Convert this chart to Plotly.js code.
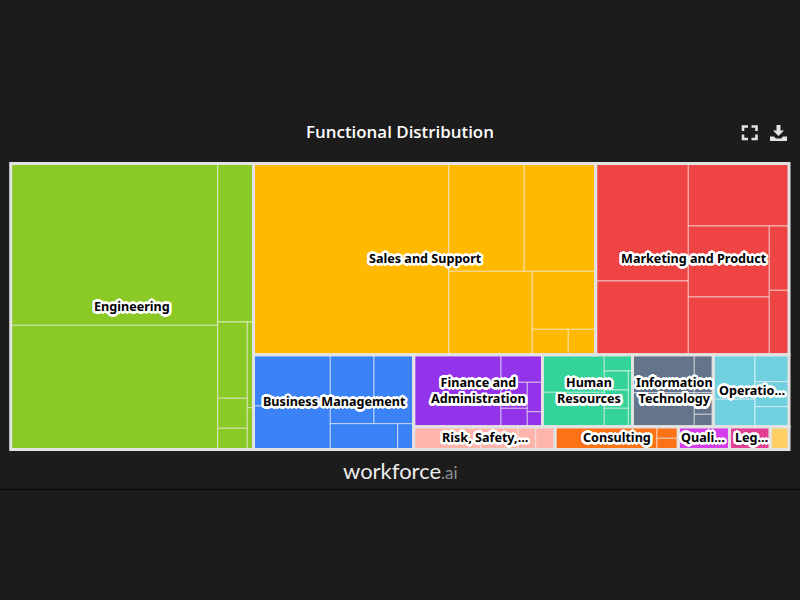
<!DOCTYPE html>
<html>
<head>
<meta charset="utf-8">
<script src="https://cdn.plot.ly/plotly-3.0.1.min.js"></script>
<style>html,body{margin:0;padding:0;background:#1c1c1c;overflow:hidden}#chart{width:800px;height:600px}</style>
</head>
<body>
<div id="chart"></div>
<script>
// Functions of the chart
var groupNames = ['Engineering','Sales and Support','Marketing and Product','Business Management','Finance and Administration','Human Resources','Information Technology','Operations','Risk, Safety','Consulting','Quality','Legal','Other'];
var groupColors = ['#8bca26','#ffb900','#ef4444','#3b82f6','#9333ea','#34d399','#64748b','#71d0e0','#fdb5ab','#fc7216','#d53deb','#e23f93','#ffcf66'];

// Hierarchy: id, parent, value (0 on branches, which sum their children)
var nodeIds = ['All',
 'Engineering','engA','engLeft','e1','e2','engRight','e3','engLow','engLowA','e4','e5','e6','engLowB','e7','e8',
 'rest','top','Sales and Support','salesA','s1','salesR','salesR1','s2','s3','salesR2','s4','salesR3','s5','salesR4','s6','s7',
 'Marketing and Product','mktA','mktL','m1','m2','mktR','m3','mktR2','mktR2a','m4','m5','mktR2b','m6','m7',
 'bottom','Business Management','busA','busL','b1','b2','busR','busR1','b3','b4','busR2','b5','b6',
 'bottomRight','row1',
 'Finance and Administration','finA','f1','finR','f2','finR2','finR2a','f3','f4','finR2b','f5','f6',
 'Human Resources','hrA','hrL','h1','h2','hrR','h3','hrR2','hrR2a','h4','h5','h6','h7',
 'Information Technology','itA','itL','i1','i2','itR','i3','i4','i5',
 'Operations','opsA','opsL','o1','o2','opsR','o3','o4','o5',
 'row2',
 'Risk, Safety','riskA','r1','r2','r3','r4',
 'Consulting','conA','c1','conR','c2','c3',
 'Quality','Legal','Other'];
var nodeParents = ['',
 'All','Engineering','engA','engLeft','engLeft','engA','engRight','engRight','engLow','engLowA','engLowA','engLowA','engLow','engLowB','engLowB',
 'All','rest','top','Sales and Support','salesA','salesA','salesR','salesR1','salesR1','salesR','salesR2','salesR2','salesR3','salesR3','salesR4','salesR4',
 'top','Marketing and Product','mktA','mktL','mktL','mktA','mktR','mktR','mktR2','mktR2a','mktR2a','mktR2','mktR2b','mktR2b',
 'rest','bottom','Business Management','busA','busL','busL','busA','busR','busR1','busR1','busR','busR2','busR2',
 'bottom','bottomRight',
 'row1','Finance and Administration','finA','finA','finR','finR','finR2','finR2a','finR2a','finR2','finR2b','finR2b',
 'row1','Human Resources','hrA','hrL','hrL','hrA','hrR','hrR','hrR2','hrR2a','hrR2a','hrR2a','hrR2',
 'row1','Information Technology','itA','itL','itL','itA','itR','itR','itR',
 'row1','Operations','opsA','opsL','opsL','opsA','opsR','opsR','opsR',
 'bottomRight',
 'row2','Risk, Safety','riskA','riskA','riskA','riskA',
 'row2','Consulting','conA','conA','conR','conR',
 'row2','row2','row2'];
var nodeValues = [0,
 0,0,0,33493,25709,0,5674,0,0,2258,888,628,0,531,259,
 0,0,0,0,37322,0,0,8150,7697,0,6972,0,3677,0,914,696,
 0,0,0,10881,6825,0,6294,0,0,5751,4674,0,1267,1269,
 0,0,0,0,3940,3341,0,0,3015,2739,0,1739,413,
 0,0,
 0,0,6286,0,1145,0,0,684,484,0,447,228,
 0,0,0,2324,2126,0,460,0,0,456,439,442,234,
 0,0,0,2348,2101,0,722,410,236,
 0,0,0,1860,1143,0,918,850,680,
 0,
 0,0,1528,857,397,440,
 0,0,2326,0,247,239,
 1167,928,429];

// Printed group labels
var labelTexts = ['Engineering','Sales and Support','Marketing and Product','Business Management','Finance and<br>Administration','Human<br>Resources','Information<br>Technology','Operatio...','Risk, Safety,...','Consulting','Quali...','Leg...'];
var labelX = [132,425,694,334.5,478,589,674,752,485,617,703,751];
var labelY = [306.5,258.5,258.5,401.5,391,391,391,391,437.5,437.5,437.5,437.5];

var chartTitle = 'Functional Distribution';
var logoWord = 'workforce', logoSuffix = '.ai';

// ---- derive traces
var parentOf = {}; nodeIds.forEach(function(id,i){parentOf[id]=nodeParents[i];});
function groupOf(id){ while(id){ if(groupNames.indexOf(id)>=0) return id; id=parentOf[id]; } return null; }
var hasChild = {}; nodeParents.forEach(function(p){hasChild[p]=true;});
var clear = 'rgba(0,0,0,0)';
var leafColors = nodeIds.map(function(id){ return hasChild[id] ? clear : groupColors[groupNames.indexOf(groupOf(id))]; });
var leafLineW = nodeIds.map(function(id){ return hasChild[id] ? 0 : 1; });

// Frame trace: same tree, cut at the group level, drawn above the cells
var frameIds=[], frameParents=[], frameValues=[];
nodeIds.forEach(function(id,i){
  var isGroup = groupNames.indexOf(id)>=0, isAncestor=false;
  groupNames.forEach(function(g){ var p=parentOf[g]; while(p){ if(p===id) isAncestor=true; p=parentOf[p]; } });
  if(!isGroup && !isAncestor) return;
  var sum=0;
  if(isGroup){ nodeIds.forEach(function(n,j){ if(groupOf(n)===id) sum+=nodeValues[j]; }); }
  frameIds.push(id); frameParents.push(nodeParents[i]); frameValues.push(sum);
});
var frameW = frameIds.map(function(id){ return groupNames.indexOf(id)>=0 ? 3 : 0; });

var dom = {x:[10.7/800,789/800], y:[1-449.5/600,1-163.5/600]};
var common = {
  type:'treemap', branchvalues:'remainder', sort:false, textinfo:'none', domain:dom,
  tiling:{packing:'slice-dice', pad:0}, pathbar:{visible:false}, root:{color:clear}, leaf:{opacity:1}
};
var cells = Object.assign({}, common, {
  ids:nodeIds, labels:nodeIds, parents:nodeParents, values:nodeValues, hoverinfo:'label+value',
  marker:{colors:leafColors, depthfade:false, pad:{t:0,l:0,r:0,b:0}, line:{width:leafLineW, color:'rgba(255,255,255,0.6)'}}
});
var frames = Object.assign({}, common, {
  ids:frameIds, labels:frameIds, parents:frameParents, values:frameValues, hoverinfo:'skip',
  marker:{colors:frameIds.map(function(){return clear;}), depthfade:false, pad:{t:0,l:0,r:0,b:0}, line:{width:frameW, color:'#e2e2e2'}}
});

// ---- decorations
function px(x){return (x/800).toFixed(5);} function py(y){return (1-y/600).toFixed(5);}
function pathOf(pts){ return pts.map(function(s){ return s[0]+' '+px(s[1])+' '+py(s[2]); }).join(' ')+' Z'; }
function open(pts){ return pts.map(function(s){ return s[0]+' '+px(s[1])+' '+py(s[2]); }).join(' '); }
var iconColor='#e2e2e2';
var shapes=[
  {type:'line',xref:'paper',yref:'paper',x0:0,x1:1,y0:1-489.5/600,y1:1-489.5/600,line:{color:'#0a0a0a',width:1}}
];
[[[743,131],[743,126.5],[748,126.5]],[[751.5,126.5],[756.5,126.5],[756.5,131]],
 [[743,134.5],[743,139],[748,139]],[[751.5,139],[756.5,139],[756.5,134.5]]].forEach(function(c){
  shapes.push({type:'path',xref:'paper',yref:'paper',line:{color:iconColor,width:2.6},
    path:open([['M',c[0][0],c[0][1]],['L',c[1][0],c[1][1]],['L',c[2][0],c[2][1]]])});
});
shapes.push({type:'path',xref:'paper',yref:'paper',fillcolor:iconColor,line:{width:0},
  path:pathOf([['M',776.5,125],['L',780.5,125],['L',780.5,130.5],['L',784,130.5],['L',778.5,136],['L',773,130.5],['L',776.5,130.5]])});
shapes.push({type:'path',xref:'paper',yref:'paper',fillcolor:iconColor,line:{width:0},
  path:pathOf([['M',770,136.5],['L',774,136.5],['L',776,138.5],['L',781,138.5],['L',783,136.5],['L',787,136.5],['L',787,141],['L',770,141]])});

var halo=[[2.6,0],[-2.6,0],[0,2.6],[0,-2.6],[1.9,1.9],[-1.9,1.9],[1.9,-1.9],[-1.9,-1.9],[2.4,1],[-2.4,1],[2.4,-1],[-2.4,-1],[1,2.4],[-1,2.4],[1,-2.4],[-1,-2.4]]
  .map(function(o){return o[0]+'px '+o[1]+'px 0.5px #fff';}).join(', ');
var annotations = labelTexts.map(function(t,i){
  return {text:t, x:labelX[i]/800, y:1-labelY[i]/600, xref:'paper', yref:'paper', xanchor:'center', yanchor:'middle', showarrow:false, align:'center',
    font:{family:'"Noto Sans", sans-serif', size:12.6, weight:700, color:'#000', shadow:halo}};
});
annotations.push({text:logoWord+'<span style="color:#8f8f8f;font-size:17px">'+logoSuffix+'</span>', x:400/800, y:1-470/600, xref:'paper', yref:'paper',
  xanchor:'center', yanchor:'middle', showarrow:false, font:{family:'Lato, sans-serif', size:22, color:'#ececec'}});

Plotly.newPlot('chart',[cells,frames],{
  width:800,height:600,autosize:false,
  paper_bgcolor:'#1c1c1c',plot_bgcolor:'#1c1c1c',
  margin:{l:0,r:0,t:0,b:0,pad:0},
  showlegend:false,
  title:{text:chartTitle,x:0.5,xanchor:'center',xref:'paper',y:1-132/600,yanchor:'middle',yref:'container',
    font:{family:'"Open Sans", sans-serif',size:16.9,weight:600,color:'#ffffff'}},
  shapes:shapes,annotations:annotations
},{displayModeBar:false,responsive:false});
</script>
</body>
</html>
